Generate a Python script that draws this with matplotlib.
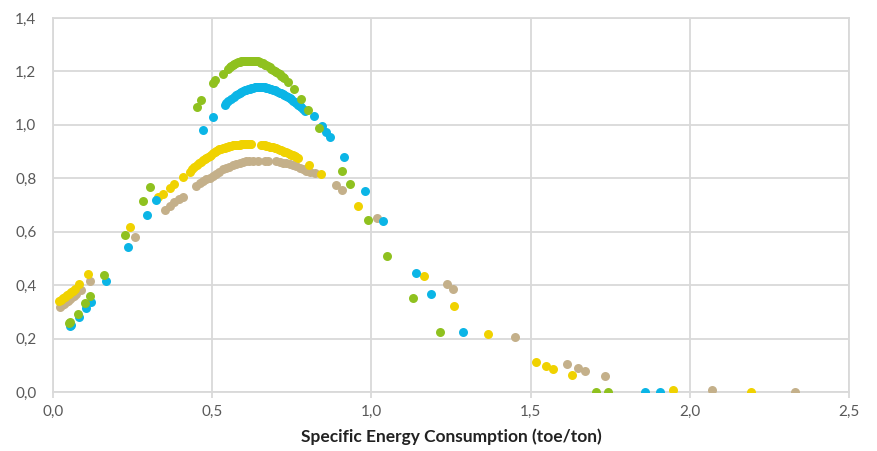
import matplotlib.pyplot as plt
from matplotlib.ticker import MultipleLocator, FuncFormatter

# values
green_x = [0.050, 0.055, 0.079, 0.100, 0.117, 0.159, 0.227, 0.283, 0.306, 0.451, 0.466,
           0.502, 0.510, 0.534, 0.549, 0.556, 0.560, 0.566, 0.570, 0.576, 0.581, 0.586,
           0.591, 0.597, 0.602, 0.607, 0.612, 0.618, 0.623, 0.628, 0.633, 0.639, 0.644,
           0.649, 0.654, 0.660, 0.665, 0.670, 0.675, 0.681, 0.686, 0.691, 0.696, 0.701,
           0.706, 0.712, 0.717, 0.722, 0.727, 0.738, 0.757, 0.778, 0.801, 0.834, 0.909,
           0.932, 0.988, 1.050, 1.132, 1.215, 1.705, 1.742]
green_y = [0.257, 0.262, 0.293, 0.332, 0.360, 0.438, 0.588, 0.714, 0.769, 1.067, 1.094,
           1.158, 1.169, 1.192, 1.211, 1.217, 1.221, 1.225, 1.228, 1.231, 1.234, 1.236,
           1.238, 1.239, 1.240, 1.240, 1.240, 1.241, 1.241, 1.240, 1.240, 1.239, 1.238,
           1.236, 1.233, 1.230, 1.226, 1.223, 1.219, 1.215, 1.211, 1.207, 1.203, 1.198,
           1.193, 1.189, 1.184, 1.179, 1.174, 1.161, 1.134, 1.096, 1.055, 0.990, 0.829,
           0.779, 0.645, 0.510, 0.353, 0.223, 0.000, 0.000]

blue_x = [0.053, 0.058, 0.081, 0.104, 0.120, 0.168, 0.235, 0.295, 0.324, 0.472, 0.502,
          0.539, 0.544, 0.549, 0.560, 0.570, 0.576, 0.581, 0.586, 0.591, 0.597, 0.602,
          0.607, 0.612, 0.618, 0.623, 0.628, 0.633, 0.639, 0.644, 0.649, 0.654, 0.660,
          0.665, 0.670, 0.675, 0.681, 0.686, 0.691, 0.696, 0.701, 0.706, 0.712, 0.717,
          0.722, 0.727, 0.733, 0.738, 0.743, 0.748, 0.754, 0.759, 0.764, 0.769, 0.775,
          0.780, 0.786, 0.793, 0.819, 0.845, 0.858, 0.871, 0.914, 0.981, 1.038, 1.139,
          1.187, 1.288, 1.859, 1.907]
blue_y = [0.247, 0.252, 0.280, 0.313, 0.337, 0.415, 0.544, 0.662, 0.720, 0.979, 1.030,
          1.075, 1.081, 1.088, 1.096, 1.106, 1.111, 1.115, 1.120, 1.124, 1.127, 1.130,
          1.132, 1.134, 1.136, 1.138, 1.139, 1.140, 1.140, 1.140, 1.141, 1.141, 1.141,
          1.140, 1.139, 1.138, 1.136, 1.134, 1.132, 1.130, 1.127, 1.124, 1.121, 1.119,
          1.115, 1.111, 1.107, 1.104, 1.100, 1.096, 1.091, 1.086, 1.081, 1.076, 1.071,
          1.066, 1.059, 1.052, 1.034, 0.996, 0.975, 0.956, 0.879, 0.751, 0.640, 0.445,
          0.366, 0.223, 0.000, 0.000]

yellow_x = [0.019, 0.025, 0.031, 0.037, 0.043, 0.050, 0.056, 0.062, 0.068, 0.082, 0.109,
            0.242, 0.329, 0.345, 0.366, 0.381, 0.408, 0.429, 0.437, 0.444, 0.452, 0.460,
            0.466, 0.471, 0.476, 0.481, 0.487, 0.492, 0.497, 0.502, 0.508, 0.513, 0.518,
            0.523, 0.528, 0.534, 0.539, 0.544, 0.549, 0.554, 0.560, 0.565, 0.570, 0.575,
            0.581, 0.586, 0.591, 0.596, 0.602, 0.607, 0.612, 0.618, 0.623, 0.654, 0.660,
            0.665, 0.670, 0.675, 0.681, 0.686, 0.691, 0.696, 0.701, 0.706, 0.712, 0.717,
            0.722, 0.727, 0.733, 0.738, 0.743, 0.748, 0.754, 0.759, 0.764, 0.769, 0.803,
            0.842, 0.957, 1.164, 1.259, 1.366, 1.517, 1.549, 1.572, 1.631, 1.946, 2.191]
yellow_y = [0.341, 0.346, 0.351, 0.356, 0.362, 0.367, 0.373, 0.379, 0.384, 0.406, 0.442,
            0.616, 0.731, 0.741, 0.762, 0.779, 0.804, 0.825, 0.833, 0.841, 0.848, 0.856,
            0.862, 0.867, 0.871, 0.876, 0.880, 0.885, 0.889, 0.893, 0.897, 0.901, 0.905,
            0.908, 0.911, 0.913, 0.915, 0.917, 0.919, 0.921, 0.922, 0.923, 0.924, 0.925,
            0.926, 0.926, 0.927, 0.928, 0.928, 0.929, 0.929, 0.929, 0.929, 0.925, 0.924,
            0.923, 0.922, 0.920, 0.919, 0.918, 0.916, 0.914, 0.912, 0.910, 0.907, 0.905,
            0.902, 0.900, 0.897, 0.895, 0.892, 0.889, 0.886, 0.883, 0.879, 0.875, 0.851,
            0.818, 0.695, 0.433, 0.323, 0.217, 0.112, 0.096, 0.085, 0.062, 0.006, 0.000]

tan_x = [0.023, 0.029, 0.035, 0.041, 0.047, 0.053, 0.059, 0.065, 0.071, 0.087, 0.116,
         0.259, 0.353, 0.366, 0.381, 0.397, 0.408, 0.450, 0.461, 0.471, 0.481, 0.492,
         0.502, 0.513, 0.523, 0.534, 0.544, 0.554, 0.565, 0.575, 0.586, 0.596, 0.607,
         0.617, 0.628, 0.644, 0.665, 0.675, 0.701, 0.712, 0.722, 0.733, 0.743, 0.754,
         0.764, 0.775, 0.785, 0.796, 0.806, 0.822, 0.888, 0.909, 1.019, 1.239, 1.256,
         1.451, 1.613, 1.648, 1.672, 1.735, 2.069, 2.331]
tan_y = [0.319, 0.324, 0.330, 0.336, 0.342, 0.348, 0.354, 0.360, 0.366, 0.382, 0.414,
         0.579, 0.683, 0.695, 0.710, 0.722, 0.731, 0.770, 0.781, 0.789, 0.797, 0.802,
         0.809, 0.816, 0.825, 0.833, 0.839, 0.844, 0.848, 0.853, 0.856, 0.860, 0.863,
         0.864, 0.865, 0.865, 0.866, 0.865, 0.864, 0.861, 0.859, 0.856, 0.853, 0.849,
         0.845, 0.839, 0.834, 0.828, 0.823, 0.819, 0.775, 0.758, 0.653, 0.405, 0.385,
         0.205, 0.105, 0.090, 0.080, 0.059, 0.006, 0.000]

plt.rcParams['font.family'] = ['Lato', 'DejaVu Sans']

fig = plt.figure(figsize=(8.77, 4.51), dpi=100)
ax = fig.add_axes([0.0604, 0.1308, 0.9076, 0.8292])

ax.scatter(tan_x, tan_y, s=42, color='#c4b08a', linewidths=0, zorder=3)
ax.scatter(yellow_x, yellow_y, s=42, color='#f0d200', linewidths=0, zorder=3)
ax.scatter(blue_x, blue_y, s=42, color='#0bb5e6', linewidths=0, zorder=3)
ax.scatter(green_x, green_y, s=42, color='#8fc11f', linewidths=0, zorder=3)

ax.set_xlim(0, 2.5)
ax.set_ylim(0, 1.4)
ax.xaxis.set_major_locator(MultipleLocator(0.5))
ax.yaxis.set_major_locator(MultipleLocator(0.2))
comma = FuncFormatter(lambda v, p: f'{v:.1f}'.replace('.', ','))
ax.xaxis.set_major_formatter(comma)
ax.yaxis.set_major_formatter(comma)

ax.grid(True, color='#d9d9d9', linewidth=1.3, zorder=0)
for s in ax.spines.values():
    s.set_color('#d9d9d9')
    s.set_linewidth(1.3)
ax.tick_params(axis='x', length=4, width=1.3, color='#d9d9d9',
               labelsize=11, labelcolor='#595959', pad=5)
ax.tick_params(axis='y', length=0, labelsize=11, labelcolor='#595959', pad=12)

ax.set_xlabel('Specific Energy Consumption (toe/ton)', fontsize=12.5,
              fontweight='bold', color='#222222', labelpad=7)

fig.savefig('out.png', dpi=100)
